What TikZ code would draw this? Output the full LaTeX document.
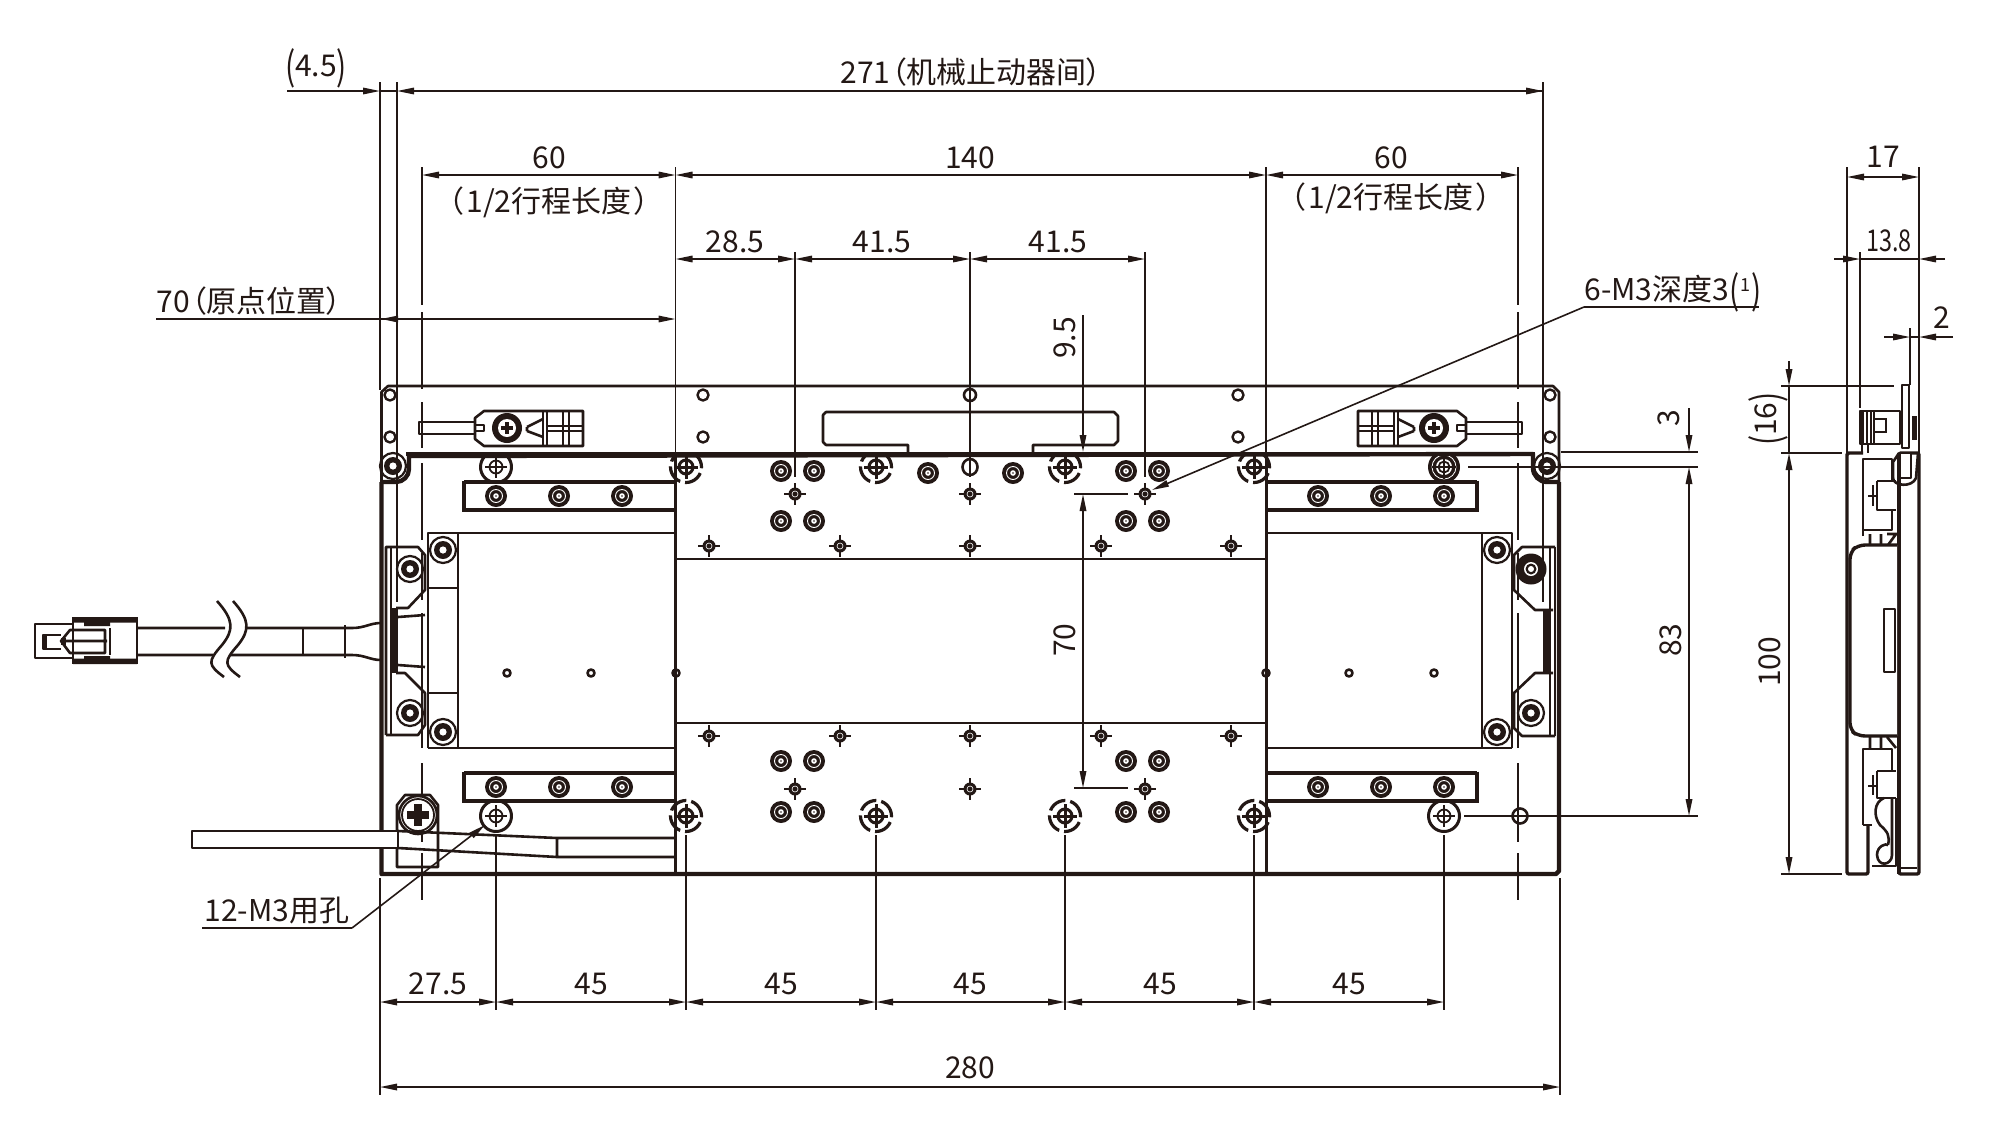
\documentclass[tikz,border=0pt]{standalone}
\usepackage{fontspec}
\setmainfont{Noto Sans CJK SC}[RawFeature={+palt}]
\usetikzlibrary{arrows.meta}
\definecolor{ink}{HTML}{231815}
\tikzset{
  tip/.tip={Triangle[length=17pt,width=6.5pt]},
  dimln/.style={draw=ink,line width=1.6pt},
  both/.style={dimln,tip-tip},
  one/.style={dimln,-tip},
  med/.style={draw=ink,line width=2.6pt,line join=round},
  thk/.style={draw=ink,line width=4.4pt,line join=round},
  thn/.style={draw=ink,line width=1.8pt},
  lbl/.style={text=ink,font=\fontsize{30}{32}\selectfont,inner sep=0pt},
  vlbl/.style={lbl,rotate=90},
}
\newcommand\lpar{\raisebox{-.11em}{\scalebox{1}[1.3]{(}}}
\newcommand\rpar{\raisebox{-.11em}{\scalebox{1}[1.3]{)}}}
\newcommand\donut[2]{\fill[ink] (#1,#2) circle[radius=11pt];\draw[white,line width=.9pt] (#1,#2) circle[radius=6.5pt];\fill[white] (#1,#2) circle[radius=2.8pt];\fill[ink] (#1,#2) circle[radius=.9pt];}
\newcommand\ringscrew[2]{\draw[thn,line width=2.2pt] (#1,#2) circle[radius=13pt];\fill[ink] (#1,#2) circle[radius=9pt];\fill[white] (#1,#2) circle[radius=3.6pt];}
\newcommand\crossmk[2]{\fill[ink] (#1,#2) circle[radius=6.5pt];\draw[ink,line width=2.6pt] (#1-11,#2)--(#1+11,#2) (#1,#2-11)--(#1,#2+11);\draw[white,line width=.6pt] (#1,#2) circle[radius=3pt];}
\newcommand\targ[2]{\draw[med,line width=3pt] (#1,#2) circle[radius=15.5pt];\draw[thn] (#1,#2) circle[radius=6.5pt];\draw[ink,line width=2.2pt] (#1-11,#2)--(#1+11,#2) (#1,#2-11)--(#1,#2+11);}
\newcommand\gtarg[2]{\draw[med,line width=3.2pt,dash pattern=on 19pt off 5pt] (#1,#2) circle[radius=15.5pt];\draw[med,line width=3pt] (#1,#2) circle[radius=7pt];\draw[ink,line width=3pt] (#1-12,#2)--(#1+12,#2) (#1,#2-12)--(#1,#2+12);}
\newcommand\phil[3]{\fill[ink] (#1-#3,#2-#3*.4) rectangle (#1+#3,#2+#3*.4);\fill[ink] (#1-#3*.4,#2-#3) rectangle (#1+#3*.4,#2+#3);}
\begin{document}
\begin{tikzpicture}[x=1pt,y=-1pt]
\useasboundingbox (0,0) rectangle (2000,1136);
\fill[white] (0,0) rectangle (2000,1136);
% --- extension lines above
\draw[dimln] (380,82)--(380,390) (397,82)--(397,602);
\draw[dimln] (1543,82)--(1543,602);
\draw[dimln] (675.5,167)--(675.5,874) (1266,167)--(1266,874);
\draw[dimln] (795,252)--(795,477) (970,252)--(970,477) (1145,252)--(1145,477);
% centre lines (dashed by hand)
\foreach \cx in {422,1518}{
 \draw[dimln] (\cx,167)--(\cx,305);
 \draw[med] (\cx,312)--(\cx,389) (\cx,402)--(\cx,448) (\cx,463)--(\cx,540) (\cx,553)--(\cx,600) (\cx,613)--(\cx,748) (\cx,763)--(\cx,842) (\cx,853)--(\cx,900);
}
% --- plate
\draw[med] (381.5,484)--(381.5,392)--(388,386)--(1553,386)--(1559,392)--(1559,484);
\draw[thk] (381.5,482)--(381.5,874)--(1556,874)--(1559,871)--(1559,482);
\draw[thk] (381.5,482)--(396,482) arc[start angle=-90,end angle=0,radius=13pt]--(409,456)--(1533,454)--(1533,468) arc[start angle=180,end angle=270,radius=14pt]--(1559,482);
\draw[thk] (406,454)--(1535,454);
\foreach \p in {(390,395),(390,437),(703,395),(703,437),(1238,395),(1238,437),(1550,395),(1550,437)}{\draw[med,line width=2.4pt] \p circle[radius=5.5pt];}
\draw[med] (970,395) circle[radius=6pt];
\draw[med] (970,467) ellipse[x radius=7.5pt,y radius=8pt];
\ringscrew{393}{466}\ringscrew{1547}{466}
% nameplate
\draw[med] (908,452)--(908,445)--(826,445)--(823,442)--(823,415)--(826,412)--(1114,412)--(1118,416)--(1118,441)--(1114,445)--(1033,445)--(1033,452);
% sensors
\foreach \s/\m in {0/1,1941/-1}{
\begin{scope}[xshift=\s pt,xscale=\m]
 \draw[med] (475,422)--(419,422)--(419,434)--(475,434);
 \draw[med] (475,418)--(484,411)--(583,411)--(583,446)--(484,446)--(475,439)--cycle;
 \draw[med] (475,425)--(484,425)--(484,431)--(475,431);
 \draw[med] (543,411)--(543,446);
 \draw[thn] (547,411)--(547,446) (563,411)--(563,446) (569,411)--(569,446) (547,426)--(583,426) (547,431)--(583,431);
 \draw[med] (527,427)--(543,419) (527,431)--(543,437) (527,427)--(527,431);
 \fill[ink] (507,428) circle[radius=15pt];\fill[white] (507,428) circle[radius=9pt];\phil{507}{428}{6}
\end{scope}}
% carriage
\draw[med] (675.5,559)--(1266,559) (675.5,723)--(1266,723);
\draw[thk,line width=3pt] (675.5,454)--(675.5,874) (1266,454)--(1266,874);
% rails
\foreach \a/\b/\c in {464/676/482,464/676/773,1266/1477/482,1266/1477/773}{
 \draw[med,line width=3.2pt] (\a,\c)--(\b,\c) (\a,\c+28)--(\b,\c+28);
}
\draw[med,line width=3.2pt] (464,480.5)--(464,511.5) (464,771.5)--(464,802.5) (1477,480.5)--(1477,511.5) (1477,771.5)--(1477,802.5);
\foreach \x in {496,559,622,1318,1381,1444}{\donut{\x}{496}\donut{\x}{787}}
% windows
\draw[med] (428,748)--(428,533)--(676,533) (428,748)--(676,748) (458,533)--(458,748) (428,588)--(458,588) (428,693)--(458,693);
\draw[med] (1512,748)--(1512,533)--(1266,533) (1512,748)--(1266,748) (1482,533)--(1482,748);
\ringscrew{443}{550}\ringscrew{443}{732}\ringscrew{1497}{550}\ringscrew{1497}{732}
\foreach \x in {507,591,676,1266,1349,1434}{\draw[med] (\x,673) circle[radius=3.5pt];}
% brackets left
\draw[med] (386,735)--(386,547)--(418,547)--(425,555)--(425,590)--(408,608)--(396,608);
\draw[med] (396,673)--(405,673)--(425,693)--(425,725)--(418,735)--(386,735);
\draw[thn] (391,547)--(391,735);
\fill[ink] (391,608) rectangle (398,673);
\draw[med] (398,617)--(425,615) (398,665)--(425,667);
\ringscrew{410}{569}\ringscrew{410}{713}
% brackets right
\draw[med] (1555,736)--(1522,736)--(1514,728)--(1514,693)--(1535,673)--(1553,673);
\draw[med] (1555,547)--(1522,547)--(1514,555)--(1514,590)--(1535,610)--(1553,610);
\draw[thn] (1555,547)--(1555,736) (1550,547)--(1550,736);
\fill[ink] (1543,610) rectangle (1550,673);
\fill[ink] (1531,569) circle[radius=15.5pt];\fill[white] (1531,569) circle[radius=7pt];\fill[ink] (1531,569) circle[radius=5.5pt];\fill[white] (1531,569) circle[radius=3pt];
\ringscrew{1531}{713}
% cross marks
\foreach \x in {795,970,1145}{\crossmk{\x}{494}\crossmk{\x}{789}}
\foreach \x in {709,840,970,1101,1231}{\crossmk{\x}{546}\crossmk{\x}{736}}
% donuts
\foreach \x in {781,814,1126,1159}{\donut{\x}{471}\donut{\x}{521}\donut{\x}{761}\donut{\x}{812}}
\donut{928}{473}\donut{1013}{473}
% mounting screws
\begin{scope}
\clip (378,456) rectangle (1562,900);
\targ{496}{467}\gtarg{686}{467}\gtarg{876}{467}\gtarg{1065}{467}\gtarg{1254}{467}
\fill[ink] (1444,467) circle[radius=16pt];\draw[white,line width=.8pt] (1444,467) circle[radius=12pt];\fill[white] (1444,467) circle[radius=8pt];\draw[thn] (1444,467) circle[radius=5.5pt] (1432,467)--(1456,467) (1444,455)--(1444,479);
\end{scope}
\targ{496}{816}\gtarg{686}{816}\gtarg{876}{816}\gtarg{1065}{816}\gtarg{1254}{816}\targ{1444}{816}
\draw[med] (1520,816) circle[radius=7.5pt];
% clamp and flat cable
\draw[med] (397,867)--(397,805)--(405,795)--(430,795)--(438,805)--(438,867)--cycle;
\draw[med,fill=white] (418,815) circle[radius=19pt];
\draw[thn] (418,815) circle[radius=16pt];
\phil{418}{815}{11}
\draw[med,fill=white] (192,831)--(398,831)--(398,848)--(192,848)--cycle;
\fill[white] (380,833) rectangle (397,846);
\draw[med] (398,831)--(557,838)--(676,838) (398,848)--(557,857)--(676,857) (557,838)--(557,857);
% main cable
\draw[med] (137,628)--(225,628) (245,628)--(345,628)--(352,628) .. controls (365,628) and (370,623) .. (381,623);
\draw[med] (137,655)--(213,655) (230,655)--(345,655)--(352,655) .. controls (365,655) and (370,660) .. (381,660);
\draw[med] (303,628)--(303,655) (345,625)--(345,658);
\draw[med] (217,601) .. controls (234,620) and (234,630) .. (222,645) .. controls (207,662) and (208,665) .. (224,677);
\draw[med] (233,601) .. controls (250,620) and (250,630) .. (238,645) .. controls (223,662) and (224,665) .. (240,677);
% plug
\draw[med] (73,624)--(35,624)--(35,658)--(73,658);
\fill[ink] (73,617) rectangle (137,622.5) (73,658.5) rectangle (137,664);
\draw[med] (137,617)--(137,664) (73,617)--(73,664);
\fill[ink] (84,622) rectangle (110,626) (84,656) rectangle (110,660);
\draw[thn] (110,628)--(110,655);
\draw[med] (61,641)--(70,630)--(105,630)--(105,653)--(70,653)--cycle (62,641)--(107,641);
\draw[med] (61,635)--(43,635)--(43,649)--(61,649);
\fill[ink] (42,635) rectangle (47,649);
\fill[ink] (61,638) rectangle (66,645);
% --- dimensions top
\draw[one] (287,91)--(380,91);
\draw[one] (1543,91)--(397,91);
\draw[one] (1400,91)--(1543,91);
\draw[both] (422,175)--(675.5,175);
\draw[both] (675.5,175)--(1266,175);
\draw[both] (1266,175)--(1518,175);
\draw[dimln] (380,91)--(397,91);
\draw[both] (675.5,259)--(795,259);\draw[both] (795,259)--(970,259);\draw[both] (970,259)--(1145,259);
\draw[dimln] (156,319)--(397,319);
\draw[one] (397,319)--(381,319);
\draw[one] (397,319)--(675.5,319);
% 9.5 / 70
\draw[one] (1083,315)--(1083,452);
\draw[dimln] (1074,494)--(1128,494) (1074,788)--(1128,788);
\draw[both] (1083,494)--(1083,788);
% 3 / 83
\draw[dimln] (1561,452)--(1698,452) (1468,467)--(1698,467) (1464,816)--(1698,816);
\draw[one] (1689,408)--(1689,452);
\draw[both] (1689,467)--(1689,816);
% bottom
\draw[dimln] (380,878)--(380,1095) (1560,878)--(1560,1095);
\foreach \x in {496,686,876,1065,1254,1444}{\draw[dimln] (\x,835)--(\x,1010);}
\foreach \a/\b in {380/496,496/686,686/876,876/1065,1065/1254,1254/1444}{\draw[both] (\a,1002)--(\b,1002);}
\draw[both] (380,1087)--(1560,1087);
% leaders
\draw[dimln] (202,928)--(352,928);
\draw[one] (352,928)--(485,825);
\draw[dimln] (1584,307)--(1759,307);
\draw[one] (1584,307)--(1152,490);
% --- side view
\draw[dimln] (1847,167)--(1847,453) (1919,167)--(1919,453) (1860,252)--(1860,408) (1910,328)--(1910,385);
\draw[both] (1847,177)--(1919,177);
\draw[dimln] (1860,259)--(1919,259);
\draw[one] (1834,259)--(1860,259);\draw[one] (1945,259)--(1919,259);
\draw[dimln] (1910,337)--(1919,337);
\draw[one] (1884,337)--(1910,337);\draw[one] (1953,337)--(1919,337);
\draw[dimln] (1781,386)--(1894,386) (1781,453)--(1842,453) (1781,874)--(1842,874);
\draw[one] (1789,361)--(1789,386);
\draw[both] (1789,453)--(1789,874);
\draw[dimln] (1789,386)--(1789,453);
% side body
\draw[thk,line width=3.4pt,rounded corners=2pt] (1863,453)--(1847,453)--(1847,874)--(1868,874)--(1868,826);
\draw[thk,line width=3.4pt,rounded corners=2pt] (1899,453)--(1919,453)--(1919,874)--(1899,874)--cycle;
\draw[thk,line width=3.8pt] (1899,453)--(1899,874);
\draw[thn] (1900,868)--(1917,868);
\draw[thk,line width=3.4pt,rounded corners=7pt,fill=white] (1897,545)--(1858,545)--(1850,552)--(1850,730)--(1858,736)--(1897,736);
\draw[med] (1884,609) rectangle (1895,672);
\draw[med] (1863,536)--(1863,459)--(1892,459)--(1892,481) (1892,510)--(1892,530)--(1863,530);
\draw[med] (1877,481)--(1896,481) (1896,510)--(1877,510)--(1877,481);
\draw[med] (1873,485) -- (1873,506) (1868,496)--(1877,496);
\draw[med] (1870,534)--(1870,545) (1881,534)--(1881,545) (1887,534)--(1897,534) (1888,545)--(1896,534);
\draw[med] (1863,825)--(1863,749)--(1892,749)--(1892,771) (1863,825)--(1872,825);
\draw[med] (1877,771)--(1896,771) (1896,798)--(1877,798)--(1877,771);
\draw[med] (1873,775) -- (1873,795) (1868,786)--(1877,786);
\draw[med] (1870,737)--(1870,749) (1881,737)--(1881,749) (1887,737)--(1896,748);
\draw[med] (1884,798) .. controls (1874,802) and (1873,816) .. (1880,825) .. controls (1888,832) and (1890,836) .. (1888,845);
\draw[med] (1892,798)--(1892,855) .. controls (1892,865) and (1878,868) .. (1877,855) .. controls (1877,846) and (1886,843) .. (1888,845);
\draw[med] (1896,798)--(1896,866)--(1872,866);
\draw[med] (1860,411) rectangle (1900,444);
\fill[ink] (1860,411) rectangle (1864,444);
\draw[thn] (1867,411)--(1867,444) (1871,411)--(1871,444);
\draw[thn] (1874,411)--(1874,444) (1874,419)--(1886,419)--(1886,432)--(1874,432);
\draw[med] (1862,444)--(1862,453) (1868,444)--(1868,453);
\draw[med,fill=white] (1902,385) rectangle (1909,448);
\fill[ink] (1912,416) rectangle (1917,440);
\draw[med,fill=white] (1900,453) rectangle (1911,478);
\draw[med] (1893,478) .. controls (1893,486) and (1912,488) .. (1916,478)--(1918,453);
\draw[med] (1893,478)--(1893,462)--(1899,453);
% --- labels
\node[lbl] (t45) at (316,68) {\lpar 4.5\rpar};
\node[lbl] (t271) at (971,72) {271\kern1pt（机械止动器间）};
\node[lbl] (t60a) at (549,158) {60};
\node[lbl] (t12a) at (549,202) {\kern-2pt（\kern3pt 1/2行程长度\kern3pt）\kern-2pt};
\node[lbl] (t140) at (970,158) {140};
\node[lbl] (t60b) at (1391,158) {60};
\node[lbl] (t12b) at (1391,198) {\kern-2pt（\kern3pt 1/2行程长度\kern3pt）\kern-2pt};
\node[lbl] (t285) at (735,242) {28.5};
\node[lbl] (t415a) at (882,242) {41.5};
\node[lbl] (t415b) at (1058,242) {41.5};
\node[lbl] (t70o) at (249,301) {70\kern1pt（原点位置）};
\node[lbl] (tm3) at (1673,292) {6-M3深度3\lpar\kern1pt{\fontsize{18}{19}\selectfont\raisebox{9pt}{1}}\kern1pt\rpar};
\node[vlbl] (t95) at (1065,338) {9.5};
\node[vlbl] (t70) at (1065,640) {70};
\node[vlbl] (t3) at (1669,418) {3};
\node[vlbl] (t83) at (1671,640) {83};
\node[lbl] (t275) at (438,984) {27.5};
\node[lbl] (t45a) at (591,984) {45};
\node[lbl] (t45b) at (781,984) {45};
\node[lbl] (t45c) at (970,984) {45};
\node[lbl] (t45d) at (1160,984) {45};
\node[lbl] (t45e) at (1349,984) {45};
\node[lbl] (t280) at (970,1068) {280};
\node[lbl] (t12m) at (277,911) {12-M3用孔};
\node[lbl] (t17) at (1883,157) {17};
\node[lbl] (t138) at (1889,241) {\scalebox{.78}[1]{13.8}};
\node[lbl] (t2) at (1942,318) {2};
\node[vlbl] (t16) at (1768,419) {\lpar 16\rpar};
\node[vlbl] (t100) at (1770,662) {100};
\end{tikzpicture}
\end{document}
